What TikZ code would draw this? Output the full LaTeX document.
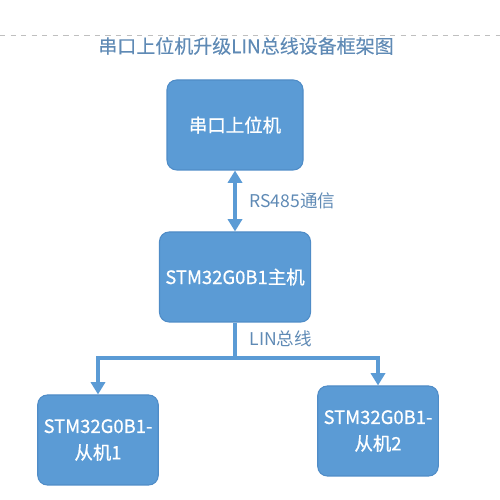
\documentclass[tikz,border=0pt]{standalone}
\usepackage{fontspec}
\setmainfont{Noto Sans CJK SC}
\newfontfamily\boxfont{Noto Sans CJK SC}[FakeBold=0.6]
\newfontfamily\titlefont{Noto Sans CJK SC}[FakeBold=0.3]
\usepackage{tikz}
\usetikzlibrary{shapes,arrows.meta,positioning}
\definecolor{boxblue}{HTML}{5B9BD5}
\definecolor{boxedge}{HTML}{4F8CC7}
\definecolor{labelblue}{HTML}{5F8AB5}
\tikzstyle{unit} = [rectangle, rounded corners=5.5pt, fill=boxblue, draw=boxedge, line width=0.6pt, text=white, align=center, font=\boxfont\fontsize{10.5}{15}\selectfont, minimum height=1.8cm]
\tikzstyle{link} = [draw=boxblue, line width=1.8pt]
\tikzstyle{tag} = [text=labelblue, font=\fontsize{10}{12}\selectfont]
\tikzstyle{tip} = [-{Triangle[width=8pt,length=7pt]}]

\begin{document}
\begin{tikzpicture}
\useasboundingbox (0,0) rectangle (10,10);
\draw[gray!50, dashed, line width=0.4pt] (0,9.3) -- (10,9.3);
\node (title) [text=labelblue, font=\titlefont\fontsize{10.8}{13}\selectfont] at (4.92,9.08) {串口上位机升级LIN总线设备框架图};
\node (host) [unit, minimum width=2.72cm] at (4.7,7.5) {串口上位机};
\node (master) [unit, minimum width=3.0cm] at (4.7,4.46) {STM32G0B1主机};
\node (slave1) [unit, minimum width=2.4cm] at (1.96,1.2) {STM32G0B1-\\从机1};
\node (slave2) [unit, minimum width=2.4cm] at (7.56,1.38) {STM32G0B1-\\从机2};
% bus junction below the master
\coordinate (bus) at (4.7,2.84);
\draw[link, {Triangle[width=8pt,length=7pt]}-{Triangle[width=8pt,length=7pt]}] (host.south) -- (master.north)
	node[tag, midway, right=4pt] {RS485通信};
\draw[link] (master.south) -- (bus)
	node[tag, pos=0.45, right=4pt] {LIN总线};
\draw[link, tip] (bus) -| (slave1.north);
\draw[link, tip] (bus) -| (slave2.north);
\end{tikzpicture}
\end{document}
